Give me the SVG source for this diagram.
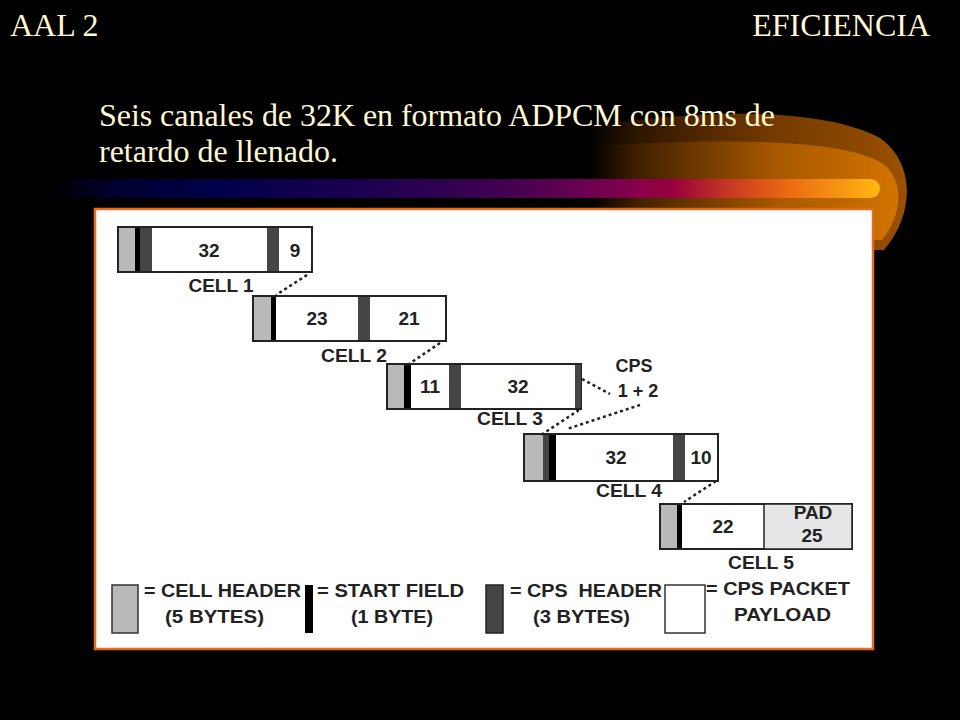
<svg xmlns="http://www.w3.org/2000/svg" width="960" height="720" viewBox="0 0 960 720">
<defs>
<linearGradient id="bar" x1="50" y1="0" x2="880" y2="0" gradientUnits="userSpaceOnUse">
<stop offset="0" stop-color="#000000"/>
<stop offset="0.08" stop-color="#000030"/>
<stop offset="0.2" stop-color="#00004a"/>
<stop offset="0.38" stop-color="#1c0050"/>
<stop offset="0.55" stop-color="#420050"/>
<stop offset="0.68" stop-color="#7a0050"/>
<stop offset="0.75" stop-color="#98003e"/>
<stop offset="0.82" stop-color="#c83a22"/>
<stop offset="0.89" stop-color="#ec6a12"/>
<stop offset="1" stop-color="#ffb812"/>
</linearGradient>
<linearGradient id="glowOuter" x1="590" y1="0" x2="905" y2="0" gradientUnits="userSpaceOnUse">
<stop offset="0" stop-color="#000000"/>
<stop offset="0.15" stop-color="#2e1600"/>
<stop offset="0.55" stop-color="#703800"/>
<stop offset="1" stop-color="#9a5000"/>
</linearGradient>
<linearGradient id="glowInner" x1="590" y1="0" x2="900" y2="0" gradientUnits="userSpaceOnUse">
<stop offset="0" stop-color="#000000"/>
<stop offset="0.15" stop-color="#402000"/>
<stop offset="0.6" stop-color="#a85800"/>
<stop offset="1" stop-color="#d27400"/>
</linearGradient>
<style>
.title{font-family:"Liberation Serif","Times New Roman",serif;font-size:32px;fill:#fff8d2}
.num{font-family:"Liberation Sans",Arial,sans-serif;font-weight:bold;font-size:19px;fill:#222;text-anchor:middle}
.lbl{font-family:"Liberation Sans",Arial,sans-serif;font-weight:bold;font-size:18px;fill:#222;text-anchor:middle}
.leg{font-family:"Liberation Sans",Arial,sans-serif;font-weight:bold;font-size:19px;fill:#222}
.box{fill:#ffffff;stroke:#222;stroke-width:2}
.ch{fill:#b9b9b9}
.sf{fill:#000000}
.cps{fill:#454545}
.pad{fill:#e6e6e6;stroke:#222;stroke-width:1.5}
.dot{stroke:#222;stroke-width:2.5;stroke-dasharray:3 3;fill:none}
</style>
</defs>
<rect x="0" y="0" width="960" height="720" fill="#000"/>
<g id="banner">
<path d="M590,126 C700,110 820,106 880,138 C914,162 916,212 884,250 L590,250 Z" fill="url(#glowOuter)"/>
<path d="M590,146 C720,138 850,138 886,166 C904,184 902,215 882,240 L590,240 Z" fill="url(#glowInner)"/>
<rect x="50" y="179" width="830" height="19" rx="9.5" fill="url(#bar)"/>
</g>
<g id="titles">
<text class="title" x="10" y="36">AAL 2</text>
<text class="title" x="930" y="36" text-anchor="end">EFICIENCIA</text>
<text class="title" x="99" y="126" textLength="676" lengthAdjust="spacing">Seis canales de 32K en formato ADPCM con 8ms de</text>
<text class="title" x="99" y="162">retardo de llenado.</text>
</g>
<rect id="panel" x="95" y="209" width="778" height="440" fill="#fff" stroke="#e46c1c" stroke-width="2.5"/>
<g id="cell1">
<rect class="box" x="118" y="227" width="194" height="45"/>
<rect class="ch" x="119" y="228" width="16" height="43"/>
<rect class="sf" x="135" y="228" width="5" height="43"/>
<rect class="cps" x="140" y="228" width="12" height="43"/>
<rect class="cps" x="267" y="228" width="12" height="43"/>
<text class="num" x="209" y="257">32</text>
<text class="num" x="295" y="257">9</text>
<text class="lbl" x="221" y="292" textLength="65" lengthAdjust="spacingAndGlyphs">CELL 1</text>
</g>
<g id="cell2">
<rect class="box" x="253" y="296" width="193" height="45"/>
<rect class="ch" x="254" y="297" width="17" height="43"/>
<rect class="sf" x="271" y="297" width="5" height="43"/>
<rect class="cps" x="358" y="297" width="12" height="43"/>
<text class="num" x="317" y="325">23</text>
<text class="num" x="409" y="325">21</text>
<text class="lbl" x="354" y="362" textLength="66" lengthAdjust="spacingAndGlyphs">CELL 2</text>
</g>
<g id="cell3">
<rect class="box" x="387" y="364" width="194" height="45"/>
<rect class="ch" x="388" y="365" width="16" height="43"/>
<rect class="sf" x="404" y="365" width="7" height="43"/>
<rect class="cps" x="449" y="365" width="12" height="43"/>
<rect class="cps" x="575" y="365" width="6" height="43"/>
<text class="num" x="430" y="393">11</text>
<text class="num" x="518" y="393">32</text>
<text class="lbl" x="510" y="425" textLength="66" lengthAdjust="spacingAndGlyphs">CELL 3</text>
</g>
<g id="cps12">
<text class="lbl" x="634" y="372">CPS</text>
<text class="lbl" x="638" y="397">1 + 2</text>
</g>
<g id="cell4">
<rect class="box" x="524" y="434" width="194" height="47"/>
<rect class="ch" x="525" y="435" width="18" height="45"/>
<rect class="cps" x="543" y="435" width="6" height="45"/>
<rect class="sf" x="549" y="435" width="7" height="45"/>
<rect class="cps" x="673" y="435" width="12" height="45"/>
<text class="num" x="616" y="464">32</text>
<text class="num" x="701" y="464">10</text>
<text class="lbl" x="629" y="497" textLength="66" lengthAdjust="spacingAndGlyphs">CELL 4</text>
</g>
<g id="cell5">
<rect class="box" x="660" y="504" width="192" height="45"/>
<rect class="pad" x="764" y="504" width="88" height="45"/>
<rect class="ch" x="661" y="505" width="16" height="43"/>
<rect class="sf" x="677" y="505" width="5" height="43"/>
<text class="num" x="723" y="533">22</text>
<text class="num" x="813" y="519">PAD</text>
<text class="num" x="812" y="542">25</text>
<text class="lbl" x="761" y="569" textLength="66" lengthAdjust="spacingAndGlyphs">CELL 5</text>
</g>
<g id="connectors">
<line class="dot" x1="307" y1="275" x2="276" y2="295"/>
<line class="dot" x1="440" y1="343" x2="409" y2="364"/>
<line class="dot" x1="582" y1="379" x2="610" y2="394"/>
<line class="dot" x1="640" y1="405" x2="567" y2="429"/>
<line class="dot" x1="579" y1="410" x2="541" y2="435"/>
<line class="dot" x1="716" y1="481" x2="684" y2="502"/>
</g>
<g id="legend">
<rect x="112" y="585" width="26" height="48" fill="#b9b9b9" stroke="#333" stroke-width="1.5"/>
<rect x="305" y="585" width="8" height="48" fill="#000"/>
<rect x="486" y="585" width="17" height="48" fill="#454545" stroke="#222" stroke-width="1.5"/>
<rect x="665" y="585" width="40" height="48" fill="#fff" stroke="#333" stroke-width="1.5"/>
<text class="leg" x="144" y="597" textLength="157" lengthAdjust="spacingAndGlyphs">= CELL HEADER</text>
<text class="leg" x="165" y="623" textLength="99" lengthAdjust="spacingAndGlyphs">(5 BYTES)</text>
<text class="leg" x="317" y="597" textLength="147" lengthAdjust="spacingAndGlyphs">= START FIELD</text>
<text class="leg" x="351" y="623" textLength="82" lengthAdjust="spacingAndGlyphs">(1 BYTE)</text>
<text class="leg" x="510" y="597" textLength="152" lengthAdjust="spacingAndGlyphs" xml:space="preserve">= CPS  HEADER</text>
<text class="leg" x="533" y="623" textLength="97" lengthAdjust="spacingAndGlyphs">(3 BYTES)</text>
<text class="leg" x="706" y="595" textLength="144" lengthAdjust="spacingAndGlyphs">= CPS PACKET</text>
<text class="leg" x="734" y="621" textLength="97" lengthAdjust="spacingAndGlyphs">PAYLOAD</text>
</g>
</svg>
